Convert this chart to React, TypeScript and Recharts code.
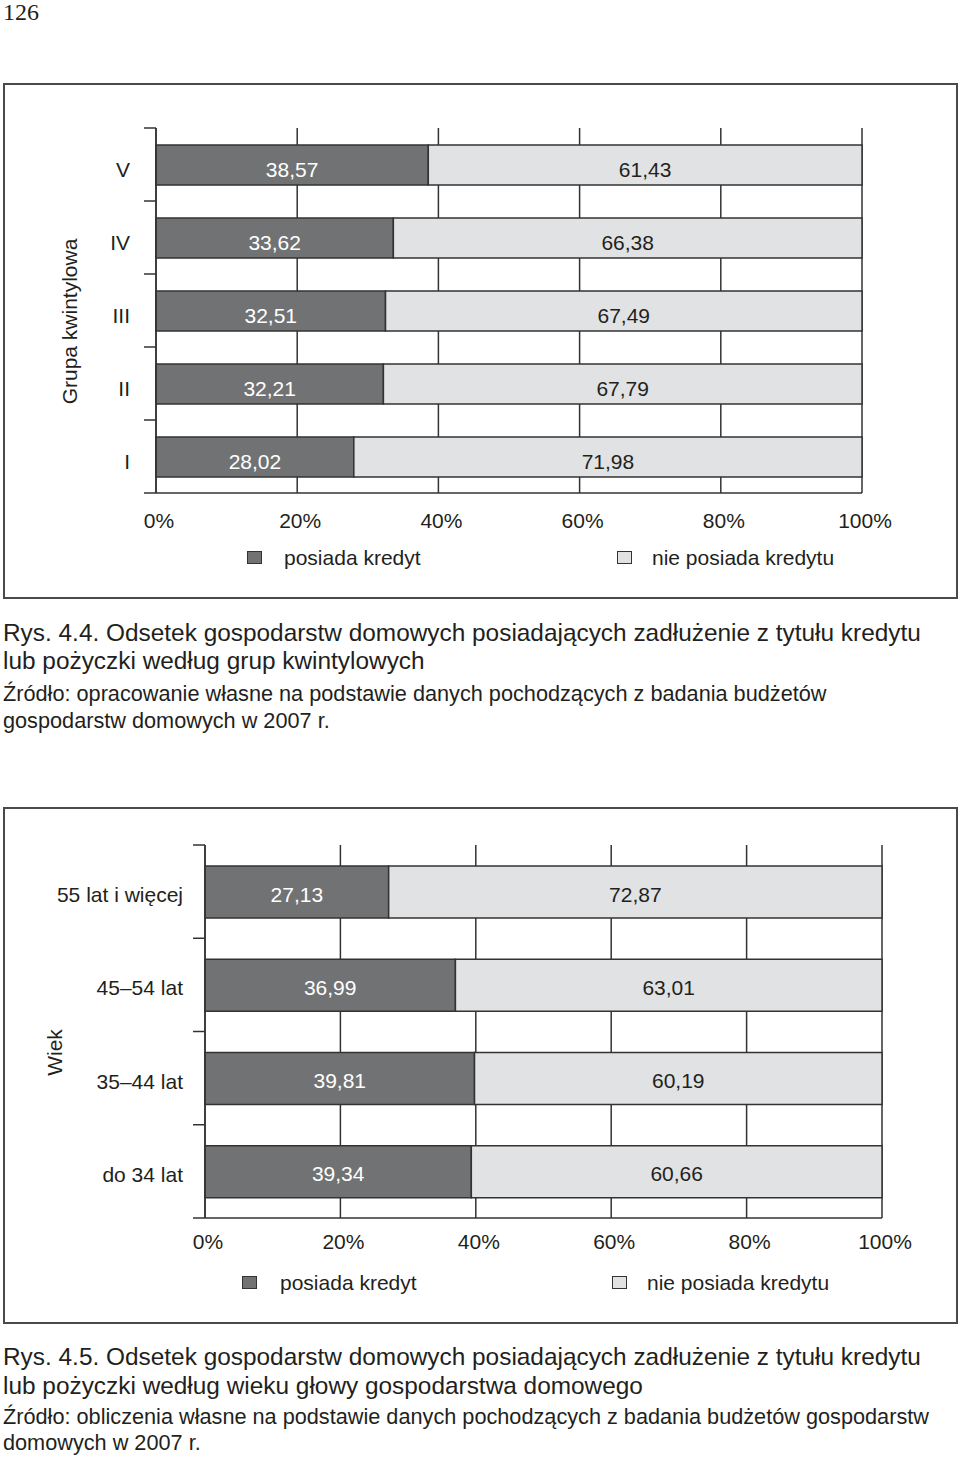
import React from "react";
import { BarChart, Bar, XAxis, YAxis, CartesianGrid, LabelList, Legend } from "recharts";

// Rys. 4.4 – grupy kwintylowe
const quintiles = ["V", "IV", "III", "II", "I"];
const quintileHasCredit = [38.57, 33.62, 32.51, 32.21, 28.02];
const quintileNoCredit = [61.43, 66.38, 67.49, 67.79, 71.98];

// Rys. 4.5 – wiek głowy gospodarstwa
const ageGroups = ["55 lat i więcej", "45–54 lat", "35–44 lat", "do 34 lat"];
const ageHasCredit = [27.13, 36.99, 39.81, 39.34];
const ageNoCredit = [72.87, 63.01, 60.19, 60.66];

const percentTicks = [0, 20, 40, 60, 80, 100];
const seriesNames = ["posiada kredyt", "nie posiada kredytu"];

const FONT = '"Liberation Sans", Arial, Helvetica, sans-serif';
const INK = "#231f20";
const LINE = "#333333";
const DARK = "#717274";
const LIGHT = "#e1e2e4";

const fmt = (v: number) => v.toFixed(2).replace(".", ",");

type PanelCfg = {
  categories: string[];
  has: number[];
  no: number[];
  title: string;
  top: number;
  height: number;
  margin: { top: number; right: number; bottom: number; left: number };
  yAxisWidth: number;
  tickGap: number;
  tickDy: number;
  labelDy: number;
  barSize: number;
  titleX: number;
  titleDy: number;
  xTickMargin: number;
  legendTop: number;
  legendX: [number, number, number, number];
};

const X_AXIS_H = 40;
const TICK_LEN = 12;

function Panel({ cfg }: { cfg: PanelCfg }) {
  const data = cfg.categories.map((name, i) => ({ name, has: cfg.has[i], no: cfg.no[i] }));
  const plotH = cfg.height - cfg.margin.top - cfg.margin.bottom - X_AXIS_H;
  const band = plotH / cfg.categories.length;

  const yTick = (props: any) => {
    const { x, y, payload, index } = props;
    const axisX = x + TICK_LEN + cfg.tickGap;
    const last = index === cfg.categories.length - 1;
    return (
      <g>
        <line x1={axisX - TICK_LEN} x2={axisX} y1={y - band / 2} y2={y - band / 2} stroke={LINE} strokeWidth={1.5} />
        {last && (
          <line x1={axisX - TICK_LEN} x2={axisX} y1={y + band / 2} y2={y + band / 2} stroke={LINE} strokeWidth={1.5} />
        )}
        <text x={x} y={y + cfg.tickDy} textAnchor="end" dominantBaseline="central" fontSize={21} fontFamily={FONT} fill={INK}>
          {payload.value}
        </text>
      </g>
    );
  };

  const barLabel = (color: string) => (p: any) => (
    <text
      x={p.x + p.width / 2}
      y={p.y + p.height / 2 + cfg.labelDy}
      textAnchor="middle"
      dominantBaseline="central"
      fontSize={21}
      fontFamily={FONT}
      fill={color}
    >
      {fmt(Number(p.value))}
    </text>
  );

  const yTitle = (p: any) => {
    const vb = p.viewBox;
    const cy = cfg.margin.top + plotH / 2 + cfg.titleDy;
    return (
      <text
        x={cfg.titleX}
        y={cy}
        transform={`rotate(-90, ${cfg.titleX}, ${cy})`}
        textAnchor="middle"
        dominantBaseline="central"
        fontSize={21}
        fontFamily={FONT}
        fill={INK}
        data-vb={vb ? vb.x : 0}
      >
        {cfg.title}
      </text>
    );
  };

  const legendContent = () => {
    const [dx, dt, lx, lt] = cfg.legendX;
    const sq = (left: number, fill: string) => (
      <div
        style={{
          position: "absolute",
          left,
          top: 6,
          width: 15,
          height: 13,
          boxSizing: "border-box",
          border: `1.5px solid ${LINE}`,
          background: fill,
        }}
      />
    );
    const txt = (left: number, s: string) => (
      <div style={{ position: "absolute", left, top: 0, lineHeight: "26px", fontSize: 21, fontFamily: FONT, color: INK, whiteSpace: "nowrap" }}>
        {s}
      </div>
    );
    return (
      <div style={{ position: "relative", width: 960, height: 26 }}>
        {sq(dx, DARK)}
        {txt(dt, seriesNames[0])}
        {sq(lx, LIGHT)}
        {txt(lt, seriesNames[1])}
      </div>
    );
  };

  return (
    <>
      <div
        style={{
          position: "absolute",
          left: 3,
          top: cfg.top,
          width: 955,
          height: cfg.height,
          boxSizing: "border-box",
          border: "2px solid #4a4a4a",
        }}
      />
      <div style={{ position: "absolute", left: 0, top: cfg.top }}>
        <BarChart width={960} height={cfg.height} data={data} layout="vertical" margin={cfg.margin} barSize={cfg.barSize}>
          <CartesianGrid horizontal={false} stroke={LINE} strokeWidth={1.5} />
          <XAxis
            type="number"
            domain={[0, 100]}
            ticks={percentTicks}
            tickFormatter={(v) => `${v}%`}
            axisLine={{ stroke: LINE, strokeWidth: 1.5 }}
            tickLine={false}
            tickSize={0}
            tickMargin={cfg.xTickMargin}
            height={X_AXIS_H}
            tick={{ fontSize: 21, fontFamily: FONT, fill: INK, dx: 3 }}
          />
          <XAxis
            xAxisId="top"
            orientation="top"
            type="number"
            domain={[0, 100]}
            height={0}
            tick={false}
            tickLine={false}
            axisLine={{ stroke: LINE, strokeWidth: 1.5 }}
          />
          <YAxis
            type="category"
            dataKey="name"
            width={cfg.yAxisWidth}
            tickSize={TICK_LEN}
            tickMargin={cfg.tickGap}
            tickLine={false}
            axisLine={{ stroke: LINE, strokeWidth: 1.5 }}
            tick={yTick}
            interval={0}
            label={{ content: yTitle }}
          />
          <Legend layout="horizontal" verticalAlign="middle" align="center" wrapperStyle={{ left: 0, top: cfg.legendTop, width: 960 }} content={legendContent} />
          <Bar dataKey="has" name={seriesNames[0]} stackId="s" fill={DARK} stroke={LINE} strokeWidth={1.5} isAnimationActive={false}>
            <LabelList dataKey="has" content={barLabel("#ffffff")} />
          </Bar>
          <Bar dataKey="no" name={seriesNames[1]} stackId="s" fill={LIGHT} stroke={LINE} strokeWidth={1.5} isAnimationActive={false}>
            <LabelList dataKey="no" content={barLabel(INK)} />
          </Bar>
        </BarChart>
      </div>
    </>
  );
}

const quintileCfg: PanelCfg = {
  categories: quintiles,
  has: quintileHasCredit,
  no: quintileNoCredit,
  title: "Grupa kwintylowa",
  top: 83,
  height: 516,
  margin: { top: 45, right: 98, bottom: 66, left: 0 },
  yAxisWidth: 156,
  tickGap: 14,
  tickDy: 5,
  labelDy: 4,
  barSize: 40,
  titleX: 69,
  titleDy: 11,
  xTickMargin: 20,
  legendTop: 462,
  legendX: [247, 284, 617, 652],
};

const ageCfg: PanelCfg = {
  categories: ageGroups,
  has: ageHasCredit,
  no: ageNoCredit,
  title: "Wiek",
  top: 807,
  height: 517,
  margin: { top: 38, right: 78, bottom: 66, left: 0 },
  yAxisWidth: 205,
  tickGap: 10,
  tickDy: 3,
  labelDy: 2,
  barSize: 52,
  titleX: 54,
  titleDy: 21,
  xTickMargin: 16,
  legendTop: 463,
  legendX: [242, 280, 612, 647],
};

const captionStyle: React.CSSProperties = {
  position: "absolute",
  left: 3,
  fontFamily: FONT,
  color: INK,
  whiteSpace: "nowrap",
};

export default function App() {
  return (
    <div style={{ position: "absolute", left: 0, top: 0, width: 960, height: 1458, background: "#ffffff", overflow: "hidden" }}>
      <div style={{ position: "absolute", left: 3, top: 0, fontFamily: '"Liberation Serif", "Times New Roman", serif', fontSize: 24, lineHeight: "24px", color: INK }}>
        126
      </div>

      <Panel cfg={quintileCfg} />

      <div style={{ ...captionStyle, top: 619, fontSize: 24.4, lineHeight: "28px" }}>
        <div>Rys. 4.4. Odsetek gospodarstw domowych posiadających zadłużenie z tytułu kredytu</div>
        <div>lub pożyczki według grup kwintylowych</div>
      </div>
      <div style={{ ...captionStyle, top: 680, fontSize: 21.7, lineHeight: "27px" }}>
        <div>Źródło: opracowanie własne na podstawie danych pochodzących z badania budżetów</div>
        <div>gospodarstw domowych w 2007 r.</div>
      </div>

      <Panel cfg={ageCfg} />

      <div style={{ ...captionStyle, top: 1342, fontSize: 24.4, lineHeight: "29px" }}>
        <div>Rys. 4.5. Odsetek gospodarstw domowych posiadających zadłużenie z tytułu kredytu</div>
        <div>lub pożyczki według wieku głowy gospodarstwa domowego</div>
      </div>
      <div style={{ ...captionStyle, top: 1404, fontSize: 21.7, lineHeight: "26px" }}>
        <div>Źródło: obliczenia własne na podstawie danych pochodzących z badania budżetów gospodarstw</div>
        <div>domowych w 2007 r.</div>
      </div>
    </div>
  );
}
